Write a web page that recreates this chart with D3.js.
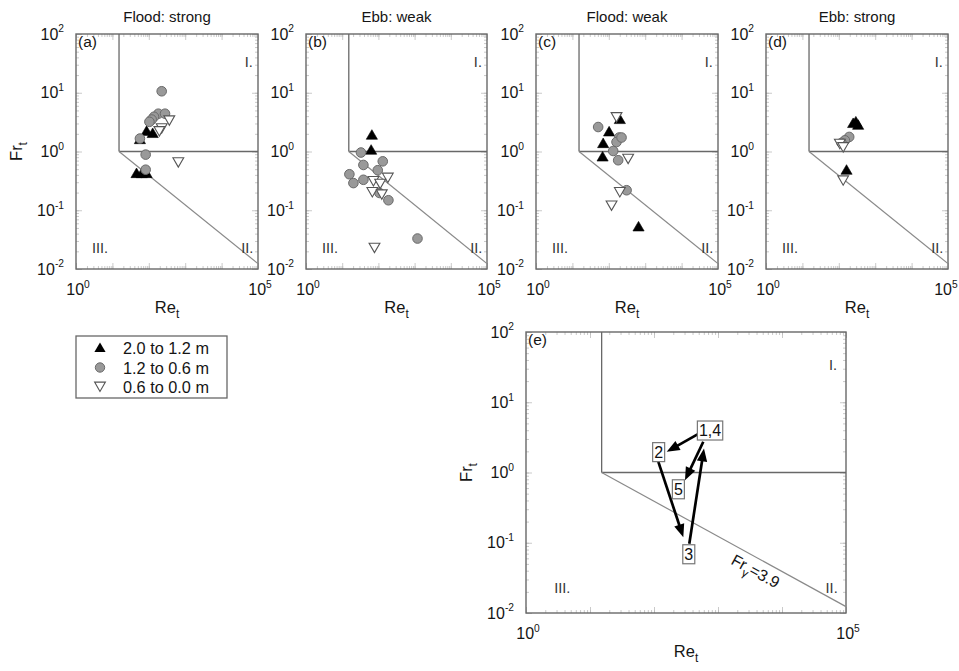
<!DOCTYPE html>
<html><head><meta charset="utf-8">
<script src="https://cdn.jsdelivr.net/npm/d3@7"></script>
<style>
body{margin:0;background:#fff;}
svg{display:block;font-family:"Liberation Sans",Arial,Helvetica,sans-serif;}
</style></head>
<body><svg id="c" width="959" height="671"></svg>
<script>
// ---------- data ----------
const titles = ["Flood: strong", "Ebb: weak", "Flood: weak", "Ebb: strong"];
const panelTags = ["(a)", "(b)", "(c)", "(d)", "(e)"];
const regionLabels = ["I.", "II.", "III."];
const legendLabels = ["2.0 to 1.2 m", "1.2 to 0.6 m", "0.6 to 0.0 m"];
const reTicks = [1, 10, 100, 1000, 10000, 100000];
const reTickLabels = [[1, "0"], [100000, "5"]];
const frTicks = [0.01, 0.1, 1, 10, 100];
const frTickLabels = ["-2", "-1", "0", "1", "2"];
const frGamma = 3.9;

// [Re, Fr] pairs, per panel and depth class
const aHigh = [[57,1.59],[87,2.2],[128,2.02],[46,0.42],[64,0.42],[87,0.42]];
const aMid  = [[226,10.6],[183,4.4],[279,4.4],[139,3.9],[120,3.5],[104,3.2],[57,1.66],[82,0.885],[82,0.49]];
const aLow  = [[366,3.4],[226,2.5],[195,2.23],[647,0.66]];

const bHigh = [[66,1.89],[63,1.05]];
const bMid  = [[33,0.96],[38.5,0.59],[132,0.68],[96,0.48],[15.8,0.41],[20.4,0.29],[38.5,0.33],[189,0.148],[1202,0.033],[107,0.197]];
const bLow  = [[73,0.315],[182,0.36],[68,0.205],[124,0.187],[112,0.284],[78,0.0231]];

const cHigh = [[201,3.49],[102,2.15],[70,1.36],[67.5,0.805],[656,0.0519]];
const cMid  = [[51,2.61],[193,1.73],[163,1.45],[224,1.73],[132,1.02],[181,0.71],[308,0.219]];
const cLow  = [[163,3.86],[340,0.757],[201,0.205],[119,0.121]];

const dHigh = [[294,3.18],[340,2.79],[248,2.99],[163,0.479]];
const dMid  = [[193,1.77],[147,1.55],[119,1.40]];
const dLow  = [[107,1.36],[132,1.19],[132,0.324]];

// panel (e): tidal stages
const stageLabels = ["1,4", "2", "3", "5"];
const stageRe = [750, 118, 349, 240];
const stageFr = [3.96, 1.95, 0.0686, 0.577];
const arrowFrom = [[510,3.61],[117,1.42],[356,0.0968],[589,2.74]];
const arrowTo   = [[158,1.97],[287,0.120],[604,2.20],[305,0.776]];

// ---------- drawing ----------
const svg = d3.select("#c");
const frameCol = "#686868", diagCol = "#8a8a8a", txtCol = "#151515";

const panels = [
  {x0:76,  x1:258, y0:34,  y1:269, title:titles[0], tag:panelTags[0], sets:[aHigh,aMid,aLow], ylab:true},
  {x0:306, x1:487, y0:34,  y1:269, title:titles[1], tag:panelTags[1], sets:[bHigh,bMid,bLow]},
  {x0:536, x1:718, y0:34,  y1:269, title:titles[2], tag:panelTags[2], sets:[cHigh,cMid,cLow]},
  {x0:766, x1:948, y0:34,  y1:269, title:titles[3], tag:panelTags[3], sets:[dHigh,dMid,dLow]},
  {x0:526, x1:846, y0:332, y1:613, title:null, tag:panelTags[4], sets:null, ylab:true, e:true}
];

const triUp = "M0,-5.6L5.6,4L-5.6,4Z";
const triDown = "M0,5L-5.4,-4.4L5.4,-4.4Z";

function supText(g, x, y, base, sup, anchor, size) {
  const t = g.append("text").attr("x", x).attr("y", y).attr("text-anchor", anchor)
    .attr("font-size", size).attr("fill", txtCol);
  t.append("tspan").text(base);
  t.append("tspan").attr("dy", -size*0.45).attr("font-size", size*0.64).text(sup);
  return t;
}
function subText(g, x, y, base, sub, anchor, size) {
  const t = g.append("text").attr("x", x).attr("y", y).attr("text-anchor", anchor)
    .attr("font-size", size).attr("fill", txtCol);
  t.append("tspan").text(base);
  t.append("tspan").attr("dy", size*0.3).attr("font-size", size*0.72).text(sub);
  return t;
}

panels.forEach(p => {
  const x = d3.scaleLog().domain([1, 1e5]).range([p.x0, p.x1]);
  const y = d3.scaleLog().domain([0.01, 100]).range([p.y1, p.y0]);
  const g = svg.append("g");

  // minor + major ticks (inward) via d3 axes
  const minorRe = [], minorFr = [];
  for (let e = 0; e < 5; e++) for (let k = 1; k < 10; k++) minorRe.push(k * Math.pow(10, e));
  for (let e = -2; e < 2; e++) for (let k = 1; k < 10; k++) minorFr.push(k * Math.pow(10, e));
  const tickCol = "#bcbcbc";
  const mk = (axis, vals, size, tr) => {
    const a = g.append("g").attr("transform", tr).call(axis.tickValues(vals).tickSize(size).tickFormat(""));
    a.select(".domain").remove();
    a.selectAll("line").attr("stroke", tickCol).attr("stroke-width", 0.8);
  };
  mk(d3.axisLeft(y), minorFr, -3, `translate(${p.x0},0)`);
  mk(d3.axisRight(y), minorFr, -3, `translate(${p.x1},0)`);
  mk(d3.axisLeft(y), frTicks, -6, `translate(${p.x0},0)`);
  mk(d3.axisRight(y), frTicks, -6, `translate(${p.x1},0)`);
  mk(d3.axisBottom(x), minorRe, -3, `translate(0,${p.y1})`);
  mk(d3.axisTop(x), minorRe, -3, `translate(0,${p.y0})`);
  mk(d3.axisBottom(x), reTicks, -6, `translate(0,${p.y1})`);
  mk(d3.axisTop(x), reTicks, -6, `translate(0,${p.y0})`);

  // frame
  g.append("rect").attr("x", p.x0).attr("y", p.y0).attr("width", p.x1 - p.x0).attr("height", p.y1 - p.y0)
    .attr("fill", "none").attr("stroke", frameCol).attr("stroke-width", 1.4);

  // regime boundaries
  const reC = frGamma * frGamma; // Re where Fr=1 on Fr_gamma line
  g.append("line").attr("x1", x(reC)).attr("x2", x(reC)).attr("y1", y(1)).attr("y2", y(100))
    .attr("stroke", frameCol).attr("stroke-width", 1.3);
  g.append("line").attr("x1", x(reC)).attr("x2", x(1e5)).attr("y1", y(1)).attr("y2", y(1))
    .attr("stroke", frameCol).attr("stroke-width", 1.3);
  g.append("line").attr("x1", x(reC)).attr("x2", x(1e5))
    .attr("y1", y(frGamma / Math.sqrt(reC))).attr("y2", y(frGamma / Math.sqrt(1e5)))
    .attr("stroke", diagCol).attr("stroke-width", 1.2);

  // region labels
  const regCol = "#333";
  g.append("text").attr("x", x(Math.pow(10, 4.86))).attr("y", y(Math.pow(10, 1.53)) + 5)
    .attr("text-anchor", "end").attr("font-size", 14.5).attr("fill", regCol).text(regionLabels[0]);
  g.append("text").attr("x", x(Math.pow(10, 4.87))).attr("y", y(Math.pow(10, -1.65)) + 5)
    .attr("text-anchor", "end").attr("font-size", 14.5).attr("fill", regCol).text(regionLabels[1]);
  g.append("text").attr("x", x(Math.pow(10, 0.44))).attr("y", y(Math.pow(10, -1.65)) + 5)
    .attr("text-anchor", "start").attr("font-size", 14.5).attr("fill", regCol).text(regionLabels[2]);

  // panel tag
  g.append("text").attr("x", p.x0 + 2).attr("y", p.y0 + 13).attr("font-size", 15.5).attr("fill", txtCol).text(p.tag);

  // tick labels
  frTicks.forEach((v, i) => supText(g, p.x0 - 12, y(v) + 5.5, "10", frTickLabels[i], "end", 16));
  reTickLabels.forEach(([v, s]) => {
    const t = supText(g, x(v) + 2, p.y1 + 26, "10", s, "middle", 16);
    const bb = t.node().getBBox();
    if (bb.x + bb.width > 958) t.attr("x", x(v) + 2 - (bb.x + bb.width - 958));
  });

  // axis titles
  subText(g, (p.x0 + p.x1) / 2, p.y1 + 44, "Re", "t", "middle", 16.5);
  if (p.ylab) {
    const cx = p.x0 - 54, cy = (p.y0 + p.y1) / 2;
    subText(g, 0, 0, "Fr", "t", "middle", 16.5).attr("transform", `translate(${cx},${cy}) rotate(-90)`);
  }
  if (p.title) {
    g.append("text").attr("x", (p.x0 + p.x1) / 2).attr("y", 22).attr("text-anchor", "middle")
      .attr("font-size", 15).attr("fill", txtCol).text(p.title);
  }

  // data markers
  if (p.sets) {
    const [hi, mid, lo] = p.sets;
    g.selectAll(".hi").data(hi).join("path").attr("d", triUp)
      .attr("transform", d => `translate(${x(d[0])},${y(d[1])})`).attr("fill", "#000").attr("stroke", "#000").attr("stroke-width", 0.6);
    g.selectAll(".mid").data(mid).join("circle").attr("cx", d => x(d[0])).attr("cy", d => y(d[1])).attr("r", 4.8)
      .attr("fill", "#999").attr("stroke", "#6a6a6a").attr("stroke-width", 1);
    g.selectAll(".lo").data(lo).join("path").attr("d", triDown)
      .attr("transform", d => `translate(${x(d[0])},${y(d[1])})`).attr("fill", "#fff").attr("stroke", "#555").attr("stroke-width", 1.1);
  }

  if (p.e) {
    // Fr_gamma label along the line
    const lr = Math.pow(10, 3.68);
    const px = x(lr), py = y(frGamma / Math.sqrt(lr));
    const ang = Math.atan2(y(frGamma / Math.sqrt(1e5)) - y(frGamma / Math.sqrt(reC)), x(1e5) - x(reC)) * 180 / Math.PI;
    const t = g.append("text").attr("transform", `translate(${px},${py}) rotate(${ang}) translate(0,18)`)
      .attr("text-anchor", "middle").attr("font-size", 16).attr("fill", txtCol);
    t.append("tspan").text("Fr");
    t.append("tspan").attr("dy", 5).attr("font-size", 11.5).text("γ");
    t.append("tspan").attr("dy", -5).text("=3.9");

    // arrows
    arrowFrom.forEach((s, i) => {
      const e = arrowTo[i];
      const xs = x(s[0]), ys = y(s[1]), xe = x(e[0]), ye = y(e[1]);
      const dx = xe - xs, dy = ye - ys, L = Math.hypot(dx, dy);
      const ux = dx / L, uy = dy / L, hl = 13, hw = 5.2;
      const bx = xe - ux * hl, by = ye - uy * hl;
      g.append("line").attr("x1", xs).attr("y1", ys).attr("x2", bx + ux * 2).attr("y2", by + uy * 2)
        .attr("stroke", "#000").attr("stroke-width", 2.7);
      g.append("path").attr("d", `M${xe},${ye}L${bx - uy * hw},${by + ux * hw}L${bx + uy * hw},${by - ux * hw}Z`)
        .attr("fill", "#000");
    });

    // stage boxes
    stageLabels.forEach((lab, i) => {
      const cx = x(stageRe[i]), cy = y(stageFr[i]);
      const bg = g.append("g");
      const rect = bg.append("rect").attr("fill", "#fff").attr("stroke", "#777").attr("stroke-width", 1.2);
      const t = bg.append("text").attr("x", cx).attr("y", cy + 5.5).attr("text-anchor", "middle")
        .attr("font-size", 16).attr("fill", "#111").text(lab);
      const bb = t.node().getBBox();
      rect.attr("x", bb.x - 1.5).attr("y", cy - 9.5).attr("width", bb.width + 3).attr("height", 19);
    });
  }
});

// legend
const lg = svg.append("g");
lg.append("rect").attr("x", 76).attr("y", 336).attr("width", 151).attr("height", 62)
  .attr("fill", "#fff").attr("stroke", frameCol).attr("stroke-width", 1.3);
const ly = [348, 367.5, 386.5];
lg.append("path").attr("d", triUp).attr("transform", `translate(100,${ly[0]})`).attr("fill", "#000");
lg.append("circle").attr("cx", 100).attr("cy", ly[1]).attr("r", 4.7).attr("fill", "#999").attr("stroke", "#6a6a6a");
lg.append("path").attr("d", triDown).attr("transform", `translate(100,${ly[2]})`).attr("fill", "#fff").attr("stroke", "#555").attr("stroke-width", 1.1);
legendLabels.forEach((l, i) => lg.append("text").attr("x", 123).attr("y", ly[i] + 6).attr("font-size", 16.3)
  .attr("fill", txtCol).text(l));
</script></body></html>
